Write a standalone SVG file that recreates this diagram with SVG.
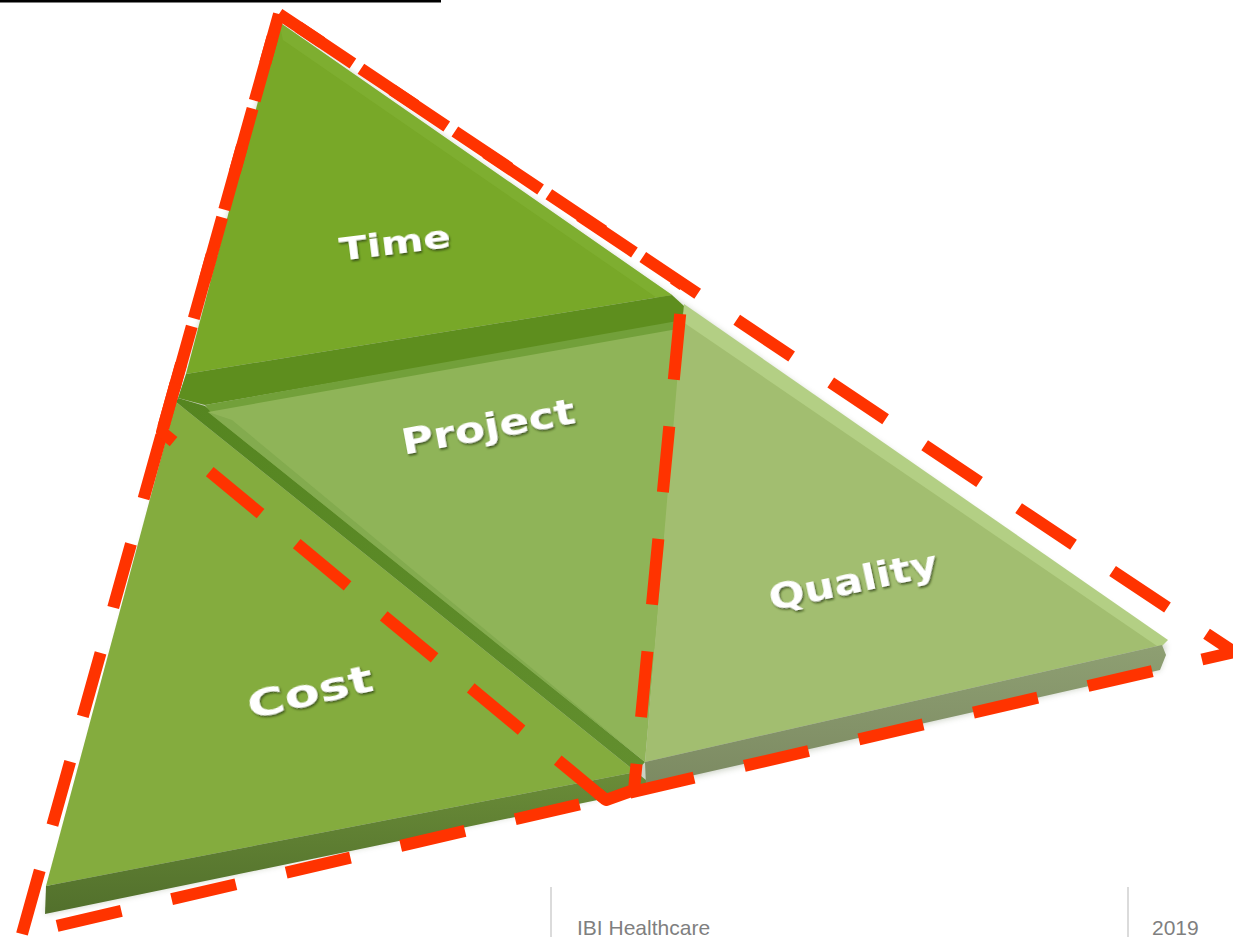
<svg xmlns="http://www.w3.org/2000/svg" width="1233" height="937" viewBox="0 0 1233 937">
<defs>
<style>
.lbl{font-family:"DejaVu Sans","Liberation Sans",sans-serif;font-weight:bold;fill:#ffffff;text-anchor:middle;filter:url(#sh);}
.dash{fill:none;stroke:#ff3300;stroke-width:12;stroke-dasharray:66 47;}
.foot{font-family:"Liberation Sans",Arial,sans-serif;font-size:21px;fill:#7f7f7f;}
.sep{stroke:#cfcfcf;stroke-width:1.5;}
</style>
<filter id="sh" x="-20%" y="-40%" width="140%" height="180%">
<feDropShadow dx="1" dy="2" stdDeviation="1" flood-color="#2a3a10" flood-opacity="0.75"/>
</filter>
<filter id="soft" x="-5%" y="-5%" width="110%" height="110%">
<feGaussianBlur stdDeviation="3"/>
</filter>
<linearGradient id="diag" x1="0" y1="0" x2="1" y2="1">
<stop offset="0" stop-color="#558520"/>
<stop offset="1" stop-color="#628e2e"/>
</linearGradient>
<linearGradient id="costSide" x1="0" y1="0" x2="0" y2="1">
<stop offset="0" stop-color="#6a8c38"/>
<stop offset="1" stop-color="#52702c"/>
</linearGradient>
<linearGradient id="qualSide" x1="0" y1="0" x2="0" y2="1">
<stop offset="0" stop-color="#8e9f72"/>
<stop offset="1" stop-color="#7c8a62"/>
</linearGradient>
</defs>
<rect x="0" y="0" width="1233" height="937" fill="#ffffff"/>
<rect x="0" y="0" width="441" height="2.5" fill="#000000"/>

<!-- soft shadow silhouette -->
<polygon points="279,22 45,914 646,788 1160,670 1166,645 684,305" fill="#6d7d5a" opacity="0.35" filter="url(#soft)"/>

<g id="node-time">
<polygon points="279,22 186,374 672,295" fill="#78a828"/>
<polygon points="279,22 672,295 660,300 283,40" fill="#82b236" opacity="0.6"/>
<polygon points="186,374 672,295 684,306 683,322 205,405 178,398" fill="#5e8e1e"/>
<text class="lbl" font-size="32" textLength="112" lengthAdjust="spacingAndGlyphs" transform="translate(395,243) rotate(-7)" y="11">Time</text>
</g>

<g id="node-cost">
<polygon points="176,402 46,886 636,772" fill="#84ac3e"/>
<polygon points="46,886 636,772 646,780 646,790 45,914" fill="url(#costSide)"/>
<text class="lbl" font-size="38" textLength="128" lengthAdjust="spacingAndGlyphs" transform="translate(310,692) rotate(-13)" y="13">Cost</text>
</g>

<g id="node-project">
<polygon points="176,402 178,398 205,406 645,762 636,772" fill="url(#diag)"/>
<polygon points="205,405 683,320 683,330 212,414" fill="#72a03a"/>
<polygon points="208,412 683,328 645,762" fill="#8fb458"/>
<polygon points="208,412 232,420 645,762" fill="#7ea74a" opacity="0.7"/>
<text class="lbl" font-size="36" textLength="176" lengthAdjust="spacingAndGlyphs" transform="translate(488,426) rotate(-10.5)" y="13">Project</text>
</g>

<g id="node-quality">
<polygon points="683,312 645,762 1162,645" fill="#a2be70"/>
<polygon points="684,304 1168,640 1160,648 683,322" fill="#b3cf84"/>
<polygon points="645,762 1162,645 1166,655 1160,670 646,786" fill="url(#qualSide)"/>
<text class="lbl" font-size="36" textLength="172" lengthAdjust="spacingAndGlyphs" transform="translate(853,580) rotate(-12)" y="13">Quality</text>
</g>

<g id="connectors">
<!-- outer triangle -->
<path class="dash" d="M279,14 L1234,652 L1201.9,659.5" stroke-dashoffset="14.5" stroke-linejoin="miter"/>
<path class="dash" d="M1201.9,659.5 L22,934" style="stroke-dasharray:66 51.6" stroke-dashoffset="66.6"/>
<path class="dash" d="M22,934 L279,14" stroke-dashoffset="0"/>
<!-- inner outline -->
<path class="dash" d="M683,285 L279,14 L162,432" stroke-dashoffset="54.5" stroke-linejoin="miter"/>
<path class="dash" d="M175.7,382.9 L162,432 L606,800" stroke-dashoffset="0" stroke-linejoin="round"/>
<path class="dash" d="M598.3,793.6 L606,800 L634,790 L683,285" stroke-dashoffset="0" stroke-linejoin="round"/>
</g>

<g id="footer">
<line class="sep" x1="551" y1="887" x2="551" y2="937"/>
<line class="sep" x1="1128" y1="887" x2="1128" y2="937"/>
<text class="foot" x="577" y="935">IBI Healthcare</text>
<text class="foot" x="1152" y="935">2019</text>
</g>
</svg>
